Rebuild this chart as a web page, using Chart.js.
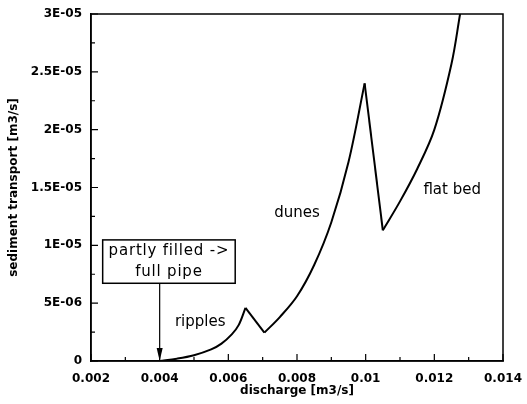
<!DOCTYPE html>
<html>
<head>
<meta charset="utf-8">
<script src="https://cdn.jsdelivr.net/npm/chart.js@4"></script>
<style>
  body { margin: 0; background: #fff; }
  canvas { display: block; }
</style>
</head>
<body>
<canvas id="sed-chart" width="527" height="404"></canvas>
<script>
// discharge [m3/s] vs sediment transport [m3/s], one branch per bed regime
const rippleQ = [0.0040, 0.0045, 0.0050, 0.0055, 0.0058, 0.0061, 0.0063, 0.0065];
const rippleS = [0, 0.2e-6, 0.5e-6, 1.0e-6, 1.5e-6, 2.3e-6, 3.1e-6, 4.6e-6];
const duneQ = [0.00705, 0.0075, 0.0080, 0.0085, 0.0090, 0.0095, 0.00997];
const duneS = [2.45e-6, 3.8e-6, 5.6e-6, 8.3e-6, 12.0e-6, 17.2e-6, 24.0e-6];
const flatQ = [0.0105, 0.0110, 0.0115, 0.0120, 0.0125, 0.01275];
const flatS = [11.3e-6, 13.8e-6, 16.6e-6, 20.0e-6, 25.7e-6, 30.0e-6];

const xTickValues = [0.002, 0.003, 0.004, 0.005, 0.006, 0.007, 0.008, 0.009, 0.010, 0.011, 0.012, 0.013, 0.014];
const xTickLabels = ['0.002', '', '0.004', '', '0.006', '', '0.008', '', '0.01', '', '0.012', '', '0.014'];
const yTickValues = [0, 2.5e-6, 5e-6, 7.5e-6, 1e-5, 1.25e-5, 1.5e-5, 1.75e-5, 2e-5, 2.25e-5, 2.5e-5, 2.75e-5, 3e-5];
const yTickLabels = ['0', '', '5E-06', '', '1E-05', '', '1.5E-05', '', '2E-05', '', '2.5E-05', '', '3E-05'];

// regime labels
const regimeNames = ['ripples', 'dunes', 'flat bed'];
const regimeX = [0.00518, 0.0080, 0.01252];
const regimeY = [3.4e-6, 12.8e-6, 14.8e-6];

// transition note box and arrow
const noteLines = ['partly filled ->', 'full pipe'];
const noteBox = { x0: 0.00234, x1: 0.0062, y0: 6.72e-6, y1: 10.47e-6 };
const noteArrowX = 0.004;

const tickFont = { family: 'DejaVu Sans', size: 12, weight: 'bold' };
const annFont = '15px "DejaVu Sans"';

const toPts = (qs, ss) => qs.map((q, i) => ({ x: q, y: ss[i] }));
const last = (a) => a[a.length - 1];

const lineStyle = { borderColor: '#000', borderWidth: 2, pointRadius: 0, fill: false };
const datasets = [
    { ...lineStyle, tension: 0.35, data: toPts(rippleQ, rippleS) },
    { ...lineStyle, tension: 0, data: [{ x: last(rippleQ), y: last(rippleS) }, { x: duneQ[0], y: duneS[0] }] },
    { ...lineStyle, tension: 0.35, data: toPts(duneQ, duneS) },
    { ...lineStyle, tension: 0, data: [{ x: last(duneQ), y: last(duneS) }, { x: flatQ[0], y: flatS[0] }] },
    { ...lineStyle, tension: 0.35, data: toPts(flatQ, flatS) }
];

// inward tick marks, plot frame, annotations
const decorations = {
    id: 'decorations',
    afterDraw(chart) {
        const { ctx, chartArea: a, scales: { x, y } } = chart;
        ctx.save();
        ctx.strokeStyle = '#000';
        ctx.fillStyle = '#000';
        ctx.lineWidth = 1.5;
        ctx.strokeRect(a.left, a.top, a.right - a.left, a.bottom - a.top);

        ctx.lineWidth = 1.2;
        ctx.beginPath();
        xTickValues.forEach((v, i) => {
            const px = x.getPixelForValue(v);
            const len = i % 2 === 0 ? 7 : 4;
            ctx.moveTo(px, a.bottom);
            ctx.lineTo(px, a.bottom - len);
        });
        yTickValues.forEach((v, i) => {
            const py = y.getPixelForValue(v);
            const len = i % 2 === 0 ? 7 : 4;
            ctx.moveTo(a.left, py);
            ctx.lineTo(a.left + len, py);
        });
        ctx.stroke();

        // regime text
        ctx.font = annFont;
        ctx.textAlign = 'center';
        ctx.textBaseline = 'middle';
        regimeNames.forEach((t, i) => {
            ctx.fillText(t, x.getPixelForValue(regimeX[i]), y.getPixelForValue(regimeY[i]));
        });

        // note box
        const bx0 = x.getPixelForValue(noteBox.x0), bx1 = x.getPixelForValue(noteBox.x1);
        const by0 = y.getPixelForValue(noteBox.y0), by1 = y.getPixelForValue(noteBox.y1);
        ctx.lineWidth = 1.5;
        ctx.strokeRect(bx0, by1, bx1 - bx0, by0 - by1);
        const cx = (bx0 + bx1) / 2;
        const lh = (by0 - by1) / noteLines.length;
        ctx.letterSpacing = '0.8px';
        noteLines.forEach((t, i) => {
            ctx.fillText(t, cx, by1 + lh * (i + 0.5));
        });
        ctx.letterSpacing = '0px';

        // arrow down to the curve
        const ax = x.getPixelForValue(noteArrowX);
        const ay = y.getPixelForValue(0);
        ctx.lineWidth = 1.2;
        ctx.beginPath();
        ctx.moveTo(ax, by0);
        ctx.lineTo(ax, ay - 10);
        ctx.stroke();
        ctx.beginPath();
        ctx.moveTo(ax - 3, ay - 13);
        ctx.lineTo(ax + 3, ay - 13);
        ctx.lineTo(ax, ay);
        ctx.closePath();
        ctx.fill();
        ctx.restore();
    }
};

new Chart(document.getElementById('sed-chart'), {
    type: 'line',
    data: { datasets },
    options: {
        responsive: false,
        animation: false,
        layout: { padding: { left: 0, top: 14, right: 24, bottom: 0 } },
        plugins: { legend: { display: false }, tooltip: { enabled: false } },
        scales: {
            x: {
                type: 'linear',
                min: 0.002,
                max: 0.014,
                afterBuildTicks: (s) => { s.ticks = xTickValues.map(v => ({ value: v })); },
                afterFit: (s) => { s.height = 43; s.paddingLeft = 0; s.paddingRight = 0; },
                grid: { display: false, drawTicks: false },
                border: { display: true, color: '#000', width: 1.5 },
                ticks: {
                    autoSkip: false,
                    maxRotation: 0,
                    padding: 11,
                    color: '#000',
                    font: tickFont,
                    callback: (v, i) => xTickLabels[i]
                },
                title: {
                    display: true,
                    text: 'discharge [m3/s]',
                    color: '#000',
                    font: tickFont,
                    padding: { top: 0, bottom: 6 }
                }
            },
            y: {
                min: 0,
                max: 3e-5,
                afterBuildTicks: (s) => { s.ticks = yTickValues.map(v => ({ value: v })); },
                afterFit: (s) => { s.width = 91; s.paddingTop = 0; s.paddingBottom = 0; },
                grid: { display: false, drawTicks: false },
                border: { display: true, color: '#000', width: 1.5 },
                ticks: {
                    autoSkip: false,
                    padding: 9,
                    color: '#000',
                    font: tickFont,
                    callback: (v, i) => yTickLabels[i]
                },
                title: {
                    display: true,
                    text: 'sediment transport [m3/s]',
                    color: '#000',
                    font: tickFont,
                    padding: { top: 7, bottom: 0 }
                }
            }
        }
    },
    plugins: [decorations]
});
</script>
</body>
</html>
